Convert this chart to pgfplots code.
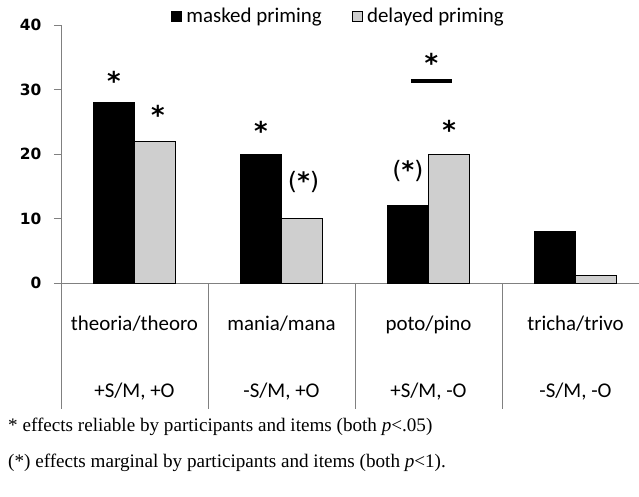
\documentclass[border=0pt]{standalone}
\usepackage{fontspec}
\setmainfont{Carlito}
\newfontfamily\timesf{Liberation Serif}
\newfontfamily\djv{DejaVu Sans}
\usepackage{pgfplots}
\pgfplotsset{compat=1.18}
\definecolor{axgray}{HTML}{808080}
\definecolor{barlight}{HTML}{CFCFCF}
\begin{document}
\begin{tikzpicture}
\begin{axis}[
  scale only axis, width=578bp, height=258bp,
  at={(0,0)}, anchor=south west,
  xmin=-0.5, xmax=3.432, ymin=0, ymax=40,
  axis lines*=left,
  axis line style={axgray, line width=0.9pt},
  ytick={0,10,20,30,40},
  tick align=outside, major tick length=7bp,
  y tick style={axgray, line width=0.9pt},
  xtick={0,1,2,3},
  x tick style={draw=none},
  xticklabels={{theoria/theoro\\[43bp]+S/M, +O},{mania/mana\\[43bp]-S/M, +O},{poto/pino\\[43bp]+S/M, -O},{tricha/trivo\\[43bp]-S/M, -O}},
  xticklabel style={align=center, anchor=center, yshift=-68bp, font=\fontsize{21}{24}\selectfont},
  tick label style={text=black},
  yticklabel style={font=\djv\bfseries\fontsize{15.5}{18}\selectfont, xshift=-9bp},
  /pgf/number format/assume math mode=true,
  ybar=0pt, bar width=41bp,
  clip=false,
  legend columns=2,
  legend style={draw=none, fill=none, at={(0.480,1.035)}, anchor=center,
    font=\fontsize{21}{24}\selectfont, /tikz/every even column/.append style={column sep=28bp}},
  legend image code/.code={\draw[#1, line width=0.6pt] (0bp,-5bp) rectangle (10bp,5bp); \path[draw=none, fill=none] (0bp,0bp) -- (13bp,0bp);},
]
\addplot[fill=black, draw=black, line width=0.8pt] coordinates {(0,28) (1,20) (2,12) (3,8)};
\addplot[fill=barlight, draw=black, line width=0.8pt] coordinates {(0,22) (1,10) (2,20) (3,1.2)};
\legend{masked priming, delayed priming}
\foreach \xx in {-0.5,0.5,1.5,2.5} {
  \edef\tmp{\noexpand\draw[axgray, line width=0.9pt] (axis cs:\xx,0) -- ++(0bp,-126bp);}\tmp
}
\tikzset{star/.style={font=\djv\bfseries\fontsize{26}{28}\selectfont, inner sep=0pt, anchor=center},
         pstar/.style={font=\djv\fontsize{24}{28}\selectfont, inner sep=0pt, anchor=center}}
\node[star] at (axis cs:-0.14,31.4) {*};
\node[star] at (axis cs:0.16,26.1) {*};
\node[star] at (axis cs:0.86,23.6) {*};
\node[pstar] at (axis cs:1.15,15.6) {(\textbf{*})};
\node[pstar] at (axis cs:1.86,17.3) {(\textbf{*})};
\node[star] at (axis cs:2.14,23.8) {*};
\node[star] at (axis cs:2.02,34.2) {*};
\draw[black, line width=3.5pt] (axis cs:1.88,31.3) -- (axis cs:2.16,31.3);
\node[anchor=west, inner sep=0pt, font=\timesf\fontsize{19.2}{21}\selectfont] at ([xshift=-53bp, yshift=-144bp]axis cs:-0.5,0) {* effects reliable by participants and items (both \textit{p}<.05)};
\node[anchor=west, inner sep=0pt, font=\timesf\fontsize{19.2}{21}\selectfont] at ([xshift=-53bp, yshift=-180bp]axis cs:-0.5,0) {(*) effects marginal by participants and items (both \textit{p}<1).};
\end{axis}
\pgfresetboundingbox
\path[use as bounding box] (-61bp,-214bp) rectangle (578bp,283bp);
\end{tikzpicture}
\end{document}
